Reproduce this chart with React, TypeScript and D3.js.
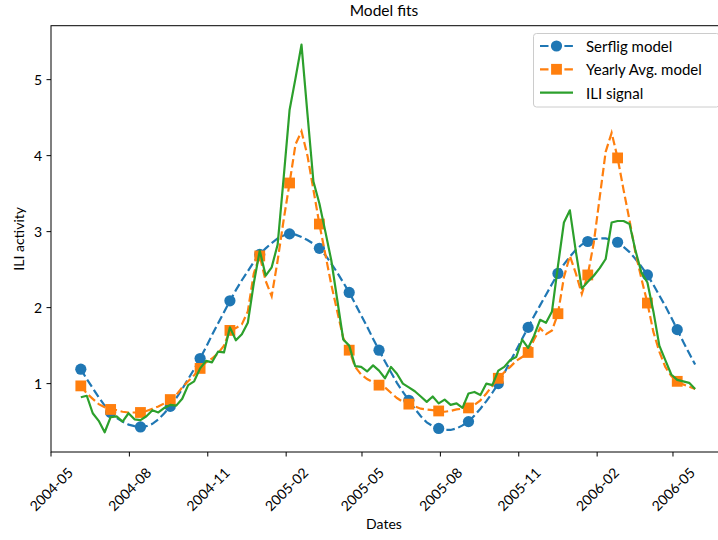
import React from 'react';
import * as d3 from 'd3';

// weekly series, first week ending 2004-06-05
const startDate = '2004-06-05';

const serflig = [
  1.19, 1.06, 0.94, 0.82, 0.71, 0.62, 0.55, 0.50, 0.46, 0.44,
  0.43, 0.44, 0.47, 0.53, 0.61, 0.70, 0.81, 0.93, 1.06, 1.19,
  1.33, 1.48, 1.64, 1.79, 1.94, 2.09, 2.23, 2.36, 2.48, 2.60,
  2.70, 2.78, 2.85, 2.91, 2.95, 2.97, 2.96, 2.93, 2.89, 2.84,
  2.78, 2.69, 2.58, 2.46, 2.33, 2.20, 2.05, 1.90, 1.75, 1.59,
  1.44, 1.29, 1.15, 1.01, 0.89, 0.78, 0.67, 0.57, 0.49, 0.44,
  0.41, 0.39, 0.39, 0.41, 0.45, 0.50, 0.58, 0.67, 0.77, 0.88,
  1.00, 1.14, 1.29, 1.44, 1.59, 1.74, 1.89, 2.03, 2.17, 2.31,
  2.45, 2.57, 2.67, 2.76, 2.83, 2.87, 2.90, 2.91, 2.91, 2.89,
  2.86, 2.80, 2.73, 2.64, 2.54, 2.43, 2.30, 2.16, 2.02, 1.87,
  1.71, 1.55, 1.40, 1.25,
];

const yearlyAvg = [
  0.97, 0.87, 0.80, 0.73, 0.69, 0.66, 0.65, 0.63, 0.62, 0.62,
  0.62, 0.64, 0.67, 0.70, 0.74, 0.79, 0.85, 0.95, 1.03, 1.11,
  1.20, 1.28, 1.33, 1.40, 1.50, 1.70, 1.73, 1.78, 1.95, 2.45,
  2.68, 2.35, 2.15, 2.62, 3.15, 3.64, 4.15, 4.32, 4.00, 3.55,
  3.10, 2.70, 2.30, 1.95, 1.60, 1.44, 1.22, 1.12, 1.06, 1.02,
  0.98, 0.95, 0.88, 0.81, 0.76, 0.73, 0.70, 0.67, 0.66, 0.65,
  0.64, 0.63, 0.64, 0.66, 0.67, 0.68, 0.72, 0.78, 0.87, 0.97,
  1.07, 1.15, 1.22, 1.30, 1.35, 1.41, 1.58, 1.73, 1.65, 1.70,
  1.92, 2.40, 2.68, 2.45, 2.18, 2.43, 2.85, 3.45, 4.05, 4.30,
  3.97, 3.55, 3.15, 2.72, 2.38, 2.06, 1.68, 1.42, 1.22, 1.10,
  1.03, 0.99, 0.96, 0.93,
];

const iliSignal = [
  0.82, 0.84, 0.61, 0.51, 0.36, 0.56, 0.57, 0.50, 0.61, 0.53,
  0.52, 0.57, 0.65, 0.62, 0.68, 0.72, 0.71, 0.80, 0.98, 1.03,
  1.20, 1.30, 1.28, 1.42, 1.41, 1.74, 1.57, 1.65, 1.80, 2.32,
  2.75, 2.42, 2.53, 2.83, 3.70, 4.60, 5.02, 5.46, 4.55, 3.66,
  3.37, 3.00, 2.62, 2.10, 1.58, 1.50, 1.23, 1.22, 1.16, 1.24,
  1.17, 1.07, 1.22, 1.13, 1.00, 0.95, 0.90, 0.83, 0.76, 0.83,
  0.74, 0.79, 0.72, 0.74, 0.68, 0.87, 0.89, 0.85, 1.00, 0.98,
  1.17, 1.22, 1.31, 1.35, 1.58, 1.47, 1.63, 1.84, 1.80, 1.95,
  2.55, 3.12, 3.28, 2.74, 2.25, 2.34, 2.42, 2.52, 2.64, 3.12,
  3.14, 3.14, 3.10, 2.75, 2.46, 2.33, 1.95, 1.50, 1.31, 1.12,
  1.05, 1.03, 1.01, 0.93,
];

const xTickLabels = ['2004-05', '2004-08', '2004-11', '2005-02', '2005-05', '2005-08', '2005-11', '2006-02', '2006-05'];
const yTicks = [1, 2, 3, 4, 5];
const legendLabels = ['Serflig model', 'Yearly Avg. model', 'ILI signal'];

const W = 718;
const H = 540;
const left = 51;
const right = 717;
const top = 25.7;
const bottom = 452;
const font = 'Lato, "Open Sans", sans-serif';
const colors = ['#1f77b4', '#ff7f0e', '#2ca02c'];

const parseMonth = d3.utcParse('%Y-%m');
const t0 = d3.utcParse('%Y-%m-%d')(startDate) as Date;
const dates = serflig.map((_, i) => d3.utcDay.offset(t0, i * 7));

const x = d3.scaleUtc()
  .domain([parseMonth('2004-05') as Date, d3.utcHour.offset(parseMonth('2004-05') as Date, 781.7 * 24)])
  .range([left, right]);
const y = d3.scaleLinear().domain([0.1, 5.71]).range([bottom, top]);

const line = d3.line<number>().x((_, i) => x(dates[i])).y(d => y(d));

const every5 = (arr: number[]) => arr.map((v, i) => ({ v, i })).filter(d => d.i % 5 === 0);

export default function App() {
  const dash = '8.5,3.7';
  const lw = 2.2;
  return (
    <svg width={W} height={H} style={{ position: 'absolute', left: 0, top: 0, background: '#fff' }} fontFamily={font}>
      <defs>
        <clipPath id="plot">
          <rect x={left} y={top} width={right - left} height={bottom - top} />
        </clipPath>
      </defs>

      <text x={(left + right) / 2} y={16} textAnchor="middle" fontSize={15.5}>Model fits</text>

      <g clipPath="url(#plot)">
        {/* Serflig */}
        <path d={line(serflig) || ''} fill="none" stroke={colors[0]} strokeWidth={lw} strokeDasharray={dash} />
        {every5(serflig).map(d => (
          <circle key={'s' + d.i} cx={x(dates[d.i])} cy={y(d.v)} r={5.6} fill={colors[0]} />
        ))}
        {/* Yearly avg */}
        <path d={line(yearlyAvg) || ''} fill="none" stroke={colors[1]} strokeWidth={lw} strokeDasharray={dash} />
        {every5(yearlyAvg).map(d => (
          <rect key={'y' + d.i} x={x(dates[d.i]) - 5.4} y={y(d.v) - 5.4} width={10.8} height={10.8} fill={colors[1]} />
        ))}
        {/* ILI */}
        <path d={line(iliSignal) || ''} fill="none" stroke={colors[2]} strokeWidth={lw} strokeLinejoin="round" />
      </g>

      {/* axes */}
      <rect x={left} y={top} width={right - left + 2} height={bottom - top} fill="none" stroke="#000" strokeWidth={1} />
      {xTickLabels.map(lbl => {
        const tx = x(parseMonth(lbl) as Date);
        return (
          <g key={lbl}>
            <line x1={tx} x2={tx} y1={bottom} y2={bottom + 4.5} stroke="#000" strokeWidth={1} />
            <text transform={`translate(${tx},489) rotate(-45)`} textAnchor="middle" dominantBaseline="central" fontSize={14}>{lbl}</text>
          </g>
        );
      })}
      {yTicks.map(v => (
        <g key={v}>
          <line x1={left - 4.5} x2={left} y1={y(v)} y2={y(v)} stroke="#000" strokeWidth={1} />
          <text x={left - 9} y={y(v)} textAnchor="end" dominantBaseline="central" fontSize={14}>{v}</text>
        </g>
      ))}
      <text x={(left + right) / 2} y={529} textAnchor="middle" fontSize={14}>Dates</text>
      <text transform={`translate(18,${(top + bottom) / 2}) rotate(-90)`} textAnchor="middle" dominantBaseline="central" fontSize={14}>ILI activity</text>

      {/* legend */}
      <rect x={533.5} y={33.5} width={186} height={73.5} rx={3} fill="#fff" fillOpacity={0.8} stroke="#cccccc" strokeWidth={1} />
      {legendLabels.map((lbl, k) => {
        const ly = 46 + k * 23.3;
        return (
          <g key={lbl}>
            <line x1={540} x2={573} y1={ly} y2={ly} stroke={colors[k]} strokeWidth={lw} strokeDasharray={k < 2 ? dash : undefined} />
            {k === 0 && <circle cx={556.5} cy={ly} r={5.6} fill={colors[0]} />}
            {k === 1 && <rect x={556.5 - 5.4} y={ly - 5.4} width={10.8} height={10.8} fill={colors[1]} />}
            <text x={586} y={ly} dominantBaseline="central" fontSize={15}>{lbl}</text>
          </g>
        );
      })}
    </svg>
  );
}
